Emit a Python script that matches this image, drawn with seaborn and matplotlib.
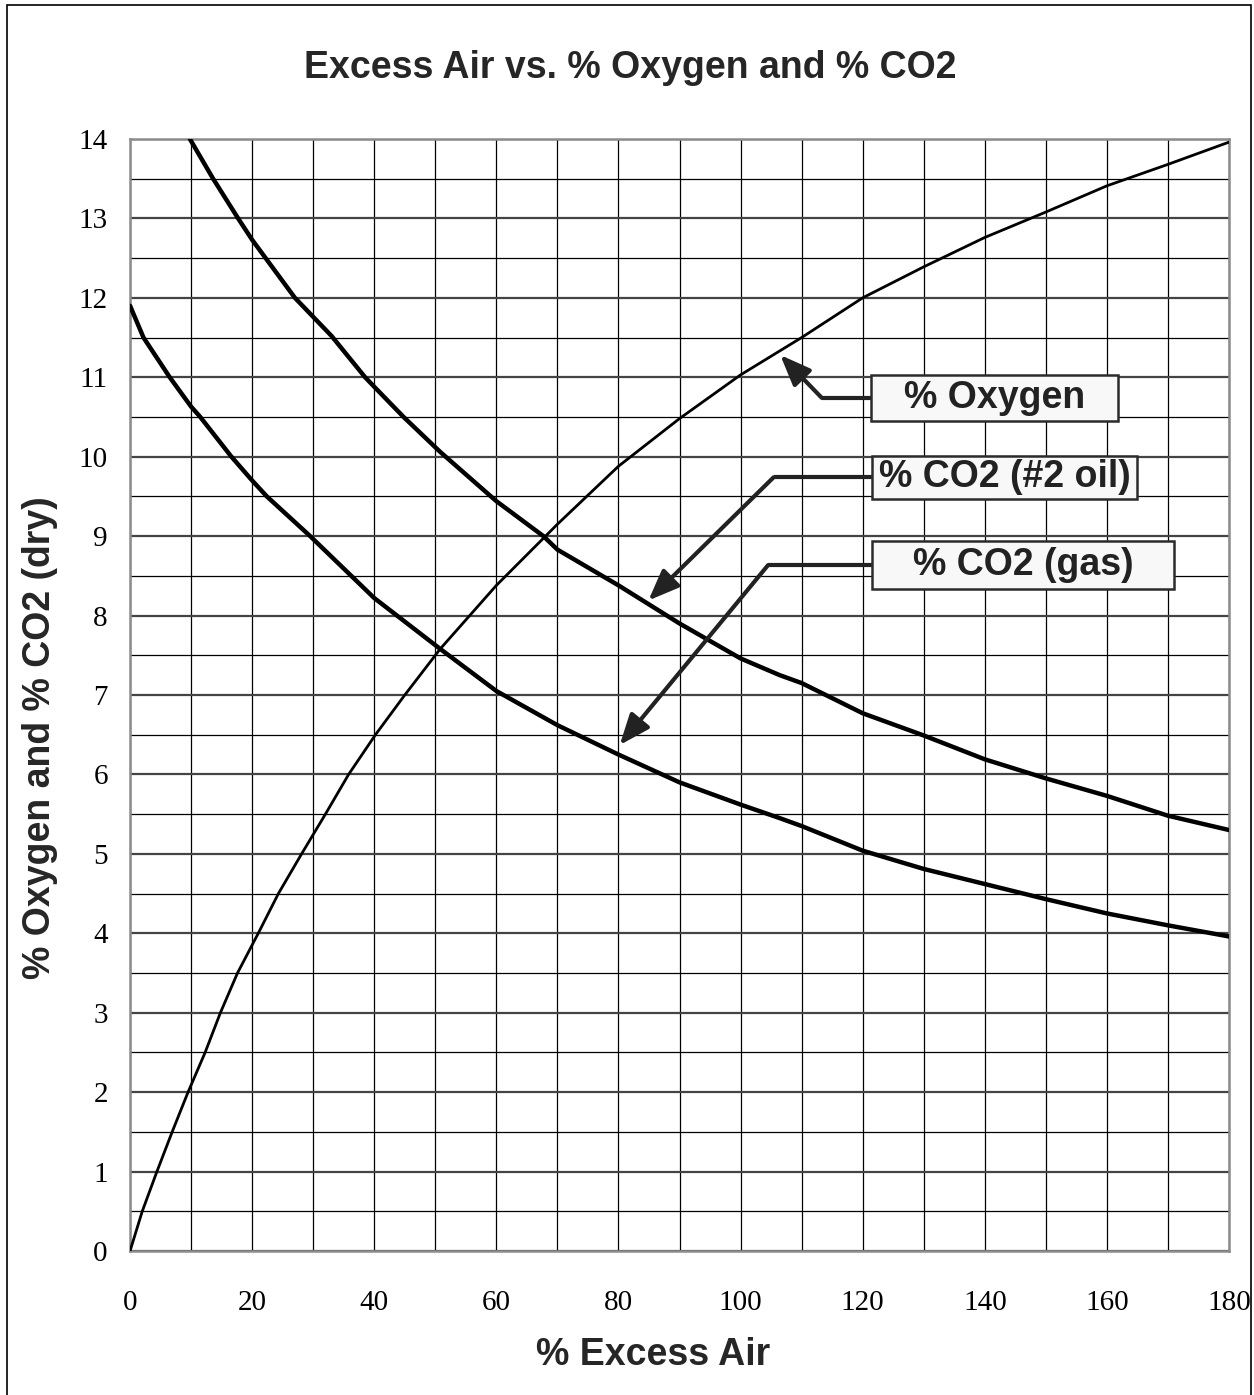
import matplotlib
matplotlib.use("Agg")
import matplotlib.pyplot as plt
from matplotlib.patches import Rectangle, ArrowStyle
from matplotlib.ticker import MultipleLocator
import seaborn as sns

# ---------------- data ----------------
o2_air = [0, 2.0, 4.4, 6.9, 9.5, 12.3, 14.8, 17.6, 21, 24.3, 28.1, 32, 35.8, 40.2,
          45, 50.8, 60, 70, 80, 90, 100, 110, 120, 130, 140, 150, 160, 170, 180]
o2_pct = [0, 0.5, 1.0, 1.5, 2.0, 2.5, 3.0, 3.5, 4.0, 4.5, 5.0, 5.5, 6.0, 6.5,
          7.0, 7.58, 8.38, 9.15, 9.88, 10.48, 11.03, 11.5, 12.0, 12.39, 12.76, 13.08, 13.41, 13.68, 13.96]

oil_air = [9.8, 13.6, 17.7, 20, 27, 30, 33, 38.5, 40, 44.8, 50.8, 60, 67.7, 70,
           80, 90, 100, 106.4, 110, 120, 130, 140, 150, 160, 170, 180]
oil_co2 = [14.0, 13.5, 13.0, 12.73, 12.0, 11.76, 11.52, 11.0, 10.88, 10.5, 10.06, 9.44, 9.0, 8.83,
           8.38, 7.9, 7.46, 7.25, 7.15, 6.77, 6.49, 6.19, 5.95, 5.73, 5.48, 5.3]

gas_air = [0, 2.2, 6.5, 10, 11.5, 16.6, 20, 22.4, 29.5, 40, 50.8, 60, 70, 80, 90,
           100, 106.4, 110, 120, 130, 140, 150, 160, 170, 180]
gas_co2 = [11.9, 11.5, 11.0, 10.63, 10.5, 10.0, 9.7, 9.5, 9.0, 8.22, 7.58, 7.05, 6.62, 6.25, 5.9,
           5.62, 5.45, 5.35, 5.04, 4.81, 4.62, 4.43, 4.25, 4.1, 3.96]

callout_labels = ["% Oxygen", "% CO2 (#2 oil)", "% CO2 (gas)"]

# ---------------- style ----------------
sns.set_theme(style="white")
plt.rcParams['font.family'] = ['Liberation Serif', 'DejaVu Serif']
bold_font = ['Liberation Sans', 'DejaVu Sans']

fig = plt.figure(figsize=(12.54, 13.95), dpi=100)
ax = fig.add_axes([0.1037, 0.1032, 0.8764, 0.7972])

sns.lineplot(x=o2_air, y=o2_pct, ax=ax, color='black', lw=2.0, zorder=3)
sns.lineplot(x=oil_air, y=oil_co2, ax=ax, color='black', lw=3.2, zorder=3)
sns.lineplot(x=gas_air, y=gas_co2, ax=ax, color='black', lw=3.2, zorder=3)

ax.set_xlim(0, 180)
ax.set_ylim(0, 14)
ax.xaxis.set_major_locator(MultipleLocator(20))
ax.xaxis.set_minor_locator(MultipleLocator(10))
ax.yaxis.set_major_locator(MultipleLocator(1))
ax.yaxis.set_minor_locator(MultipleLocator(0.5))
ax.tick_params(which='major', direction='out', length=8, width=1.0, color='black',
               labelsize=21, labelcolor='black')
ax.tick_params(axis='x', which='major', pad=20)
ax.tick_params(axis='y', which='major', pad=8)
ax.tick_params(which='minor', length=0)

ax.grid(True, which='major', axis='y', color='#444444', lw=1.6)
ax.grid(True, which='minor', axis='y', color='black', lw=0.9)
ax.grid(True, which='both', axis='x', color='black', lw=0.9)
ax.set_axisbelow(True)
for s in ax.spines.values():
    s.set_color('#8c8c8c')
    s.set_linewidth(1.8)
ax.set_xlabel('')
ax.set_ylabel('')

# titles / labels
fig.text(0.5024, 0.9515, 'Excess Air vs. % Oxygen and % CO2', ha='center', va='center',
         fontsize=27, fontweight='bold', family=bold_font)
fig.text(0.5207, 0.0287, '% Excess Air', ha='center', va='center',
         fontsize=27, fontweight='bold', family=bold_font)
fig.text(0.0319, 0.471, '% Oxygen and % CO2 (dry)', ha='center', va='center', rotation=90,
         fontsize=27, fontweight='bold', family=bold_font)

# callout boxes with elbow arrows
box_x0 = [121.3, 121.5, 121.5]
box_x1 = [161.8, 165.0, 171.0]
box_y0 = [10.45, 9.47, 8.33]
box_y1 = [11.03, 10.01, 8.94]
elbow_x = [113.3, 105.4, 104.5]
tip_xy = [(106.5, 11.28), (84.9, 8.19), (80.2, 6.37)]
arrow_col = '#222222'
head = ArrowStyle('-|>', head_length=0.75, head_width=0.3)

for lbl, x0, x1, y0, y1, ex, tip in zip(callout_labels, box_x0, box_x1, box_y0, box_y1, elbow_x, tip_xy):
    yc = (y0 + y1) / 2
    ax.add_patch(Rectangle((x0, y0), x1 - x0, y1 - y0, facecolor='#f8f8f8',
                           edgecolor='#2b2b2b', lw=1.8, zorder=6))
    ax.text((x0 + x1) / 2, yc, lbl, ha='center', va='center', fontsize=27,
            fontweight='bold', family=bold_font, color='#222222', zorder=7)
    ax.plot([x0, ex], [yc, yc], color=arrow_col, lw=3, solid_capstyle='butt', zorder=5)
    ax.annotate('', xy=tip, xytext=(ex, yc),
                arrowprops=dict(arrowstyle=head, color=arrow_col, lw=3,
                                mutation_scale=25, shrinkA=0, shrinkB=0),
                zorder=5)

# outer frame of the figure
fig.patches.append(Rectangle((7 / 1254, -0.01), (1251 - 7) / 1254, 1 - 5 / 1395 + 0.01,
                             transform=fig.transFigure, fill=False, ec='black', lw=1.2))

fig.savefig('out.png', dpi=100)
